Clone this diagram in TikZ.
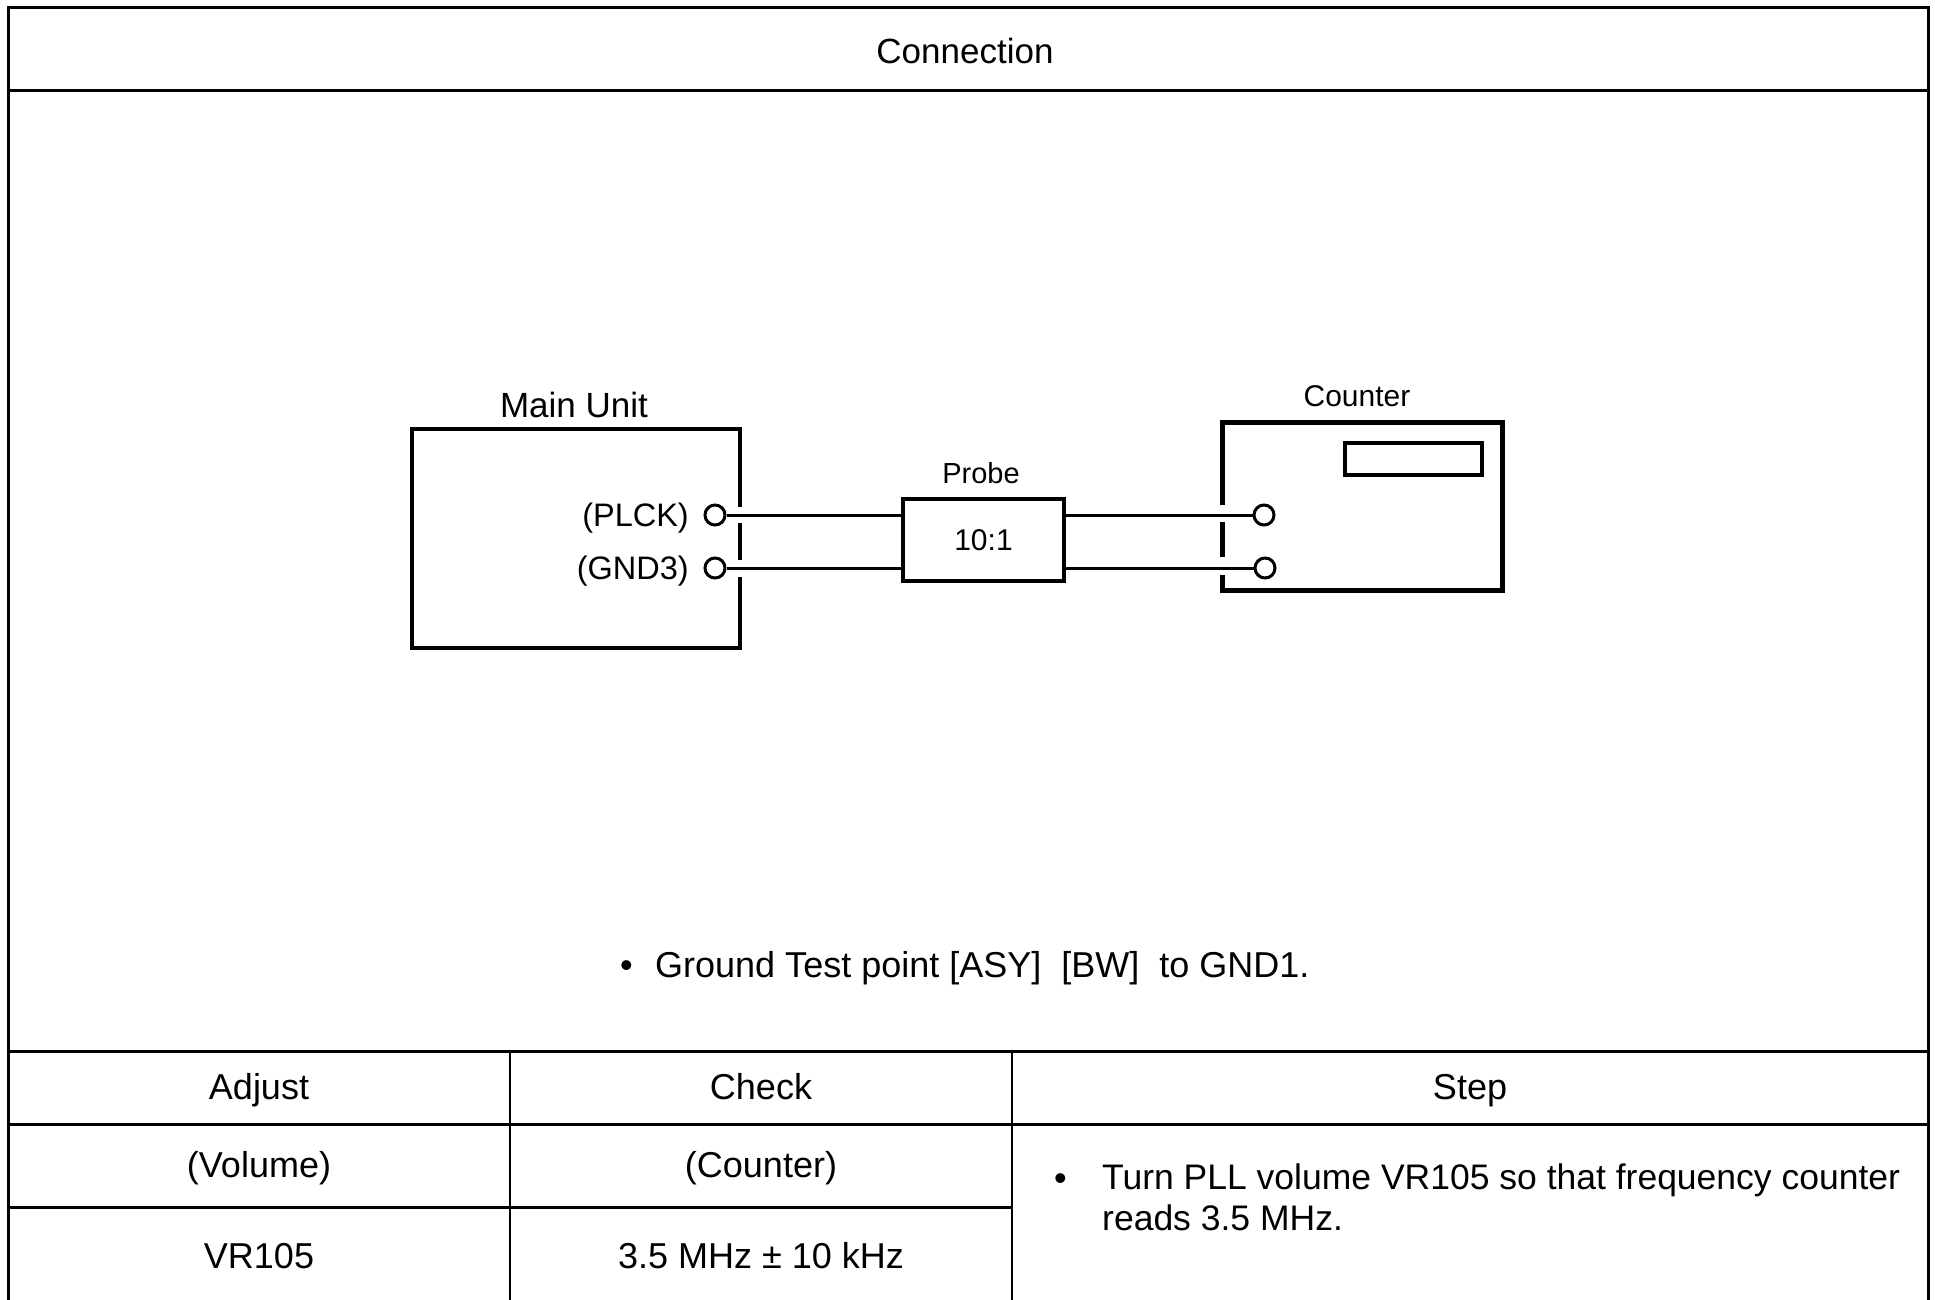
\documentclass[tikz,border=0pt]{standalone}
\usepackage{fontspec}
\setmainfont{Liberation Sans}
\begin{document}
\begin{tikzpicture}[x=1pt,y=-1pt,
  bigtxt/.style={font=\fontsize{36}{41}\selectfont, inner sep=0pt, text height=25.8pt, text depth=0pt},
  midtxt/.style={font=\fontsize{35}{41}\selectfont, inner sep=0pt, text height=25pt, text depth=0pt},
  smalltxt/.style={font=\fontsize{30}{36}\selectfont, inner sep=0pt, text height=21.5pt, text depth=0pt},
  frameline/.style={line width=3pt},
  unitbox/.style={draw, line width=4pt, rectangle, inner sep=0pt},
  wire/.style={line width=3pt},
  term/.style={draw, circle, line width=3pt, minimum size=20pt, inner sep=0pt, fill=white},
  gapfill/.style={fill=white, draw=none}
]
\useasboundingbox (0,0) rectangle (1935,1300);
% outer frame and header
\draw[frameline] (8,1300) -- (8,8) -- (1928,8) -- (1928,1300);
\draw[frameline] (8,91) -- (1928,91);
\node[midtxt] (conn) at (965,51) {Connection};

% Main unit
\node[unitbox, minimum width=328pt, minimum height=219pt] (mu) at (576,538.5) {};
\node[midtxt] (mulabel) at (574,405) {Main Unit};
\fill[gapfill] (732,507) rectangle (748,523);
\fill[gapfill] (732,560) rectangle (748,577);

% Probe
\node[unitbox, minimum width=161pt, minimum height=82pt, smalltxt] (probe) at (983.5,540) {10:1};
\node[smalltxt, font=\fontsize{29}{36}\selectfont, text height=20.8pt] (probelabel) at (981,473) {Probe};

% Counter
\node[unitbox, line width=5pt, minimum width=280pt, minimum height=168pt] (ctr) at (1362,506) {};
\node[draw, line width=3.5pt, minimum width=137pt, minimum height=32pt, inner sep=0pt] (disp) at (1413.5,459) {};
\node[smalltxt] (ctrlabel) at (1357,396) {Counter};
\fill[gapfill] (1212,505) rectangle (1232,522);
\fill[gapfill] (1212,557) rectangle (1232,575);

% terminals
\node[term] (t1) at (715,515) {};
\node[term] (t2) at (715,568) {};
\node[term] (c1) at (1264,515) {};
\node[term] (c2) at (1265,568) {};
\node[smalltxt, font=\fontsize{32.5}{36}\selectfont, text height=23.3pt, anchor=east] (plck) at (689,515) {(PLCK)};
\node[smalltxt, font=\fontsize{32.5}{36}\selectfont, text height=23.3pt, anchor=east] (gnd3) at (689,568) {(GND3)};

% wires
\draw[wire] (t1.east) -- (probe.west |- t1);
\draw[wire] (t2.east) -- (probe.west |- t2);
\draw[wire] (probe.east |- c1) -- (c1.west);
\draw[wire] (probe.east |- c2) -- (c2.west);

% note
\node[bigtxt, anchor=west] (note) at (620,965) {\makebox[35pt][l]{\textbullet}Ground Test point [ASY]\ \ [BW]\ \ to GND1.};

% table
\draw[frameline] (8,1051) -- (1928,1051);
\draw[frameline] (8,1124) -- (1928,1124);
\draw[frameline] (8,1207) -- (1012,1207);
\draw[line width=2pt] (510,1051) -- (510,1300);
\draw[line width=2pt] (1012,1051) -- (1012,1300);

\node[bigtxt] (hadj) at (259,1087) {Adjust};
\node[bigtxt] (hchk) at (761,1087) {Check};
\node[bigtxt] (hstep) at (1470,1087) {Step};
\node[bigtxt] (vol) at (259,1165) {(Volume)};
\node[bigtxt] (cnt) at (761,1165) {(Counter)};
\node[bigtxt] (vr) at (259,1256) {VR105};
\node[bigtxt] (freq) at (761,1256) {3.5 MHz \textpm\ 10 kHz};
\node[bigtxt, anchor=west] (bul) at (1054,1178) {\textbullet};
\node[font=\fontsize{35.5}{41}\selectfont, inner sep=0pt, anchor=north west, align=left] (steptxt) at (1102,1164) {Turn PLL volume VR105 so that frequency counter\\reads 3.5 MHz.};
\end{tikzpicture}
\end{document}
